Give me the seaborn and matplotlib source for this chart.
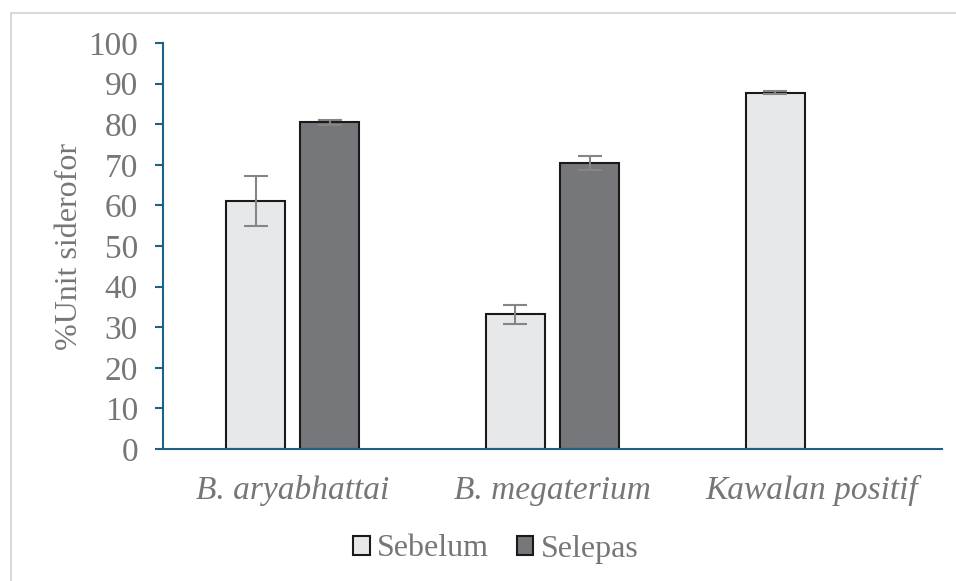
import matplotlib
matplotlib.use("Agg")
import matplotlib.pyplot as plt
import seaborn as sns
import pandas as pd
import numpy as np
from matplotlib.patches import Rectangle

categories = ["B. aryabhattai", "B. megaterium", "Kawalan positif"]
series_names = ["Sebelum", "Selepas"]
sebelum = [61.1, 33.2, 87.8]
selepas = [80.5, 70.4, np.nan]
sebelum_err = [6.2, 2.3, 0.4]
selepas_err = [0.6, 1.8, np.nan]
yticks = [0, 10, 20, 30, 40, 50, 60, 70, 80, 90, 100]

rows = []
for i, c in enumerate(categories):
    rows.append({"cat": c, "series": "Sebelum", "val": sebelum[i], "err": sebelum_err[i]})
    rows.append({"cat": c, "series": "Selepas", "val": selepas[i], "err": selepas_err[i]})
df = pd.DataFrame(rows)

sns.set_theme(style="white")
plt.rcParams['font.family'] = ['Liberation Serif', 'DejaVu Serif']
text_color = "#767676"
axis_color = "#1d6088"

fig = plt.figure(figsize=(9.56, 5.81), dpi=100)
ax = fig.add_axes([163/956, 1-449/581, (942-163)/956, (449-43)/581])

palette = {"Sebelum": "#e7e8ea", "Selepas": "#76777b"}
sns.barplot(data=df.dropna(subset=["val"]), x="cat", y="val", hue="series",
            order=categories, hue_order=series_names, palette=palette,
            width=0.571, gap=0.203, edgecolor="#1a1a1a", linewidth=1.5,
            errorbar=None, ax=ax, legend=True, saturation=1)

bars = [p for p in ax.patches if isinstance(p, Rectangle) and p.get_height() > 0]
for p in bars:
    cx = p.get_x() + p.get_width() / 2
    h = p.get_height()
    idx = int(round(cx))
    cat = categories[idx]
    ser = "Sebelum" if cx < idx else "Selepas"
    e = df[(df.cat == cat) & (df.series == ser)]["err"].values[0]
    ax.errorbar(cx, h, yerr=e, fmt="none", ecolor="#858585", elinewidth=1.5,
                capsize=8.5, capthick=1.5, zorder=5)

ax.set_ylim(0, 100)
ax.set_xlim(-0.5, 2.5)
ax.set_yticks(yticks)
ax.set_yticklabels([str(t) for t in yticks])
ax.set_xlabel("")
ax.set_ylabel("%Unit siderofor", fontsize=23, color=text_color, labelpad=3)
for lab in ax.get_xticklabels():
    lab.set_fontstyle("italic")
ax.tick_params(axis="y", labelsize=24, labelcolor=text_color, left=True,
               length=6, width=1.5, color=axis_color, direction="out", pad=12)
ax.tick_params(axis="x", labelsize=24, labelcolor=text_color, bottom=False, pad=13)

for s in ["top", "right"]:
    ax.spines[s].set_visible(False)
for s in ["left", "bottom"]:
    ax.spines[s].set_color(axis_color)
    ax.spines[s].set_linewidth(1.5)

ax.legend(loc="center", bbox_to_anchor=(495.5/956, 1 - 549/581),
          bbox_transform=fig.transFigure, ncol=2, frameon=False,
          fontsize=23, labelcolor=text_color, handlelength=0.53, handleheight=0.53,
          handletextpad=0.22, columnspacing=0.87, borderpad=0)

fig.patches.append(Rectangle((11/956, -0.1), 1.2, 1 - 13/581 + 0.1,
                             transform=fig.transFigure, fill=False,
                             edgecolor="#d9d9d9", linewidth=1.5))

fig.savefig("out.png", dpi=100)
